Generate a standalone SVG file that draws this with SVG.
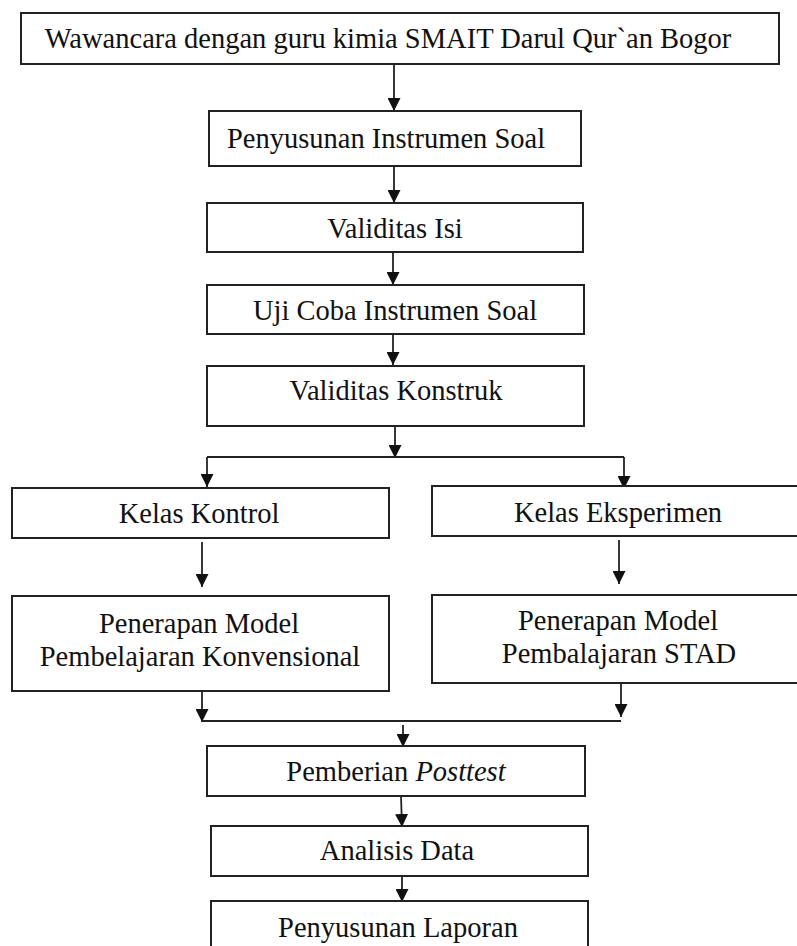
<svg xmlns="http://www.w3.org/2000/svg" width="797" height="946" viewBox="0 0 797 946">
<style>
  .box { fill: #fff; stroke: #222; stroke-width: 2; }
  .lbl { font-size: 28.5px; fill: #111; text-anchor: middle; }
  .con { fill: none; stroke: #222; stroke-width: 1.8; }
  .arr { marker-end: url(#ah); }
</style>
<defs>
  <marker id="ah" markerUnits="userSpaceOnUse" markerWidth="13" markerHeight="13" refX="13" refY="6.5" orient="auto">
    <path d="M0,0 L13,6.5 L0,13 z" fill="#111"/>
  </marker>
</defs>
<rect width="797" height="946" fill="#fff"/>

<g id="connectors">
  <line class="con arr" x1="394" y1="64" x2="394" y2="111"/>
  <line class="con arr" x1="394" y1="166" x2="394" y2="203"/>
  <line class="con arr" x1="393" y1="252" x2="393" y2="285"/>
  <line class="con arr" x1="393" y1="334" x2="393" y2="365"/>
  <line class="con arr" x1="395" y1="426" x2="395" y2="458"/>
  <line class="con" x1="207" y1="457" x2="624" y2="457"/>
  <line class="con arr" x1="207" y1="457" x2="207" y2="487"/>
  <line class="con arr" x1="624" y1="457" x2="624" y2="489"/>
  <line class="con arr" x1="202" y1="542" x2="202" y2="587"/>
  <line class="con arr" x1="619" y1="540" x2="619" y2="584"/>
  <line class="con arr" x1="202" y1="691" x2="202" y2="722"/>
  <line class="con arr" x1="621" y1="683" x2="621" y2="717"/>
  <line class="con" x1="202" y1="721" x2="621" y2="721"/>
  <line class="con arr" x1="403" y1="725" x2="403" y2="747"/>
  <line class="con arr" x1="401" y1="796" x2="402" y2="827"/>
  <line class="con arr" x1="402" y1="876" x2="402" y2="902"/>
</g>

<g font-family="'Liberation Serif', 'DejaVu Serif', serif">
<g id="n1">
  <rect class="box" x="21" y="13" width="758" height="51"/>
  <text class="lbl" x="388" y="48">Wawancara dengan guru kimia SMAIT Darul Qur`an Bogor</text>
</g>
<g id="n2">
  <rect class="box" x="209" y="111" width="372" height="55"/>
  <text class="lbl" x="386" y="148">Penyusunan Instrumen Soal</text>
</g>
<g id="n3">
  <rect class="box" x="207" y="203" width="376" height="49"/>
  <text class="lbl" x="395" y="238">Validitas Isi</text>
</g>
<g id="n4">
  <rect class="box" x="207" y="285" width="377" height="49"/>
  <text class="lbl" x="395" y="320">Uji Coba Instrumen Soal</text>
</g>
<g id="n5">
  <rect class="box" x="207" y="366" width="377" height="60"/>
  <text class="lbl" x="396" y="400">Validitas Konstruk</text>
</g>
<g id="n6">
  <rect class="box" x="12" y="488" width="377" height="50"/>
  <text class="lbl" x="199" y="523">Kelas Kontrol</text>
</g>
<g id="n7">
  <rect class="box" x="432" y="486" width="372" height="50"/>
  <text class="lbl" x="618" y="522">Kelas Eksperimen</text>
</g>
<g id="n8">
  <rect class="box" x="12" y="596" width="377" height="95"/>
  <text class="lbl" x="199" y="633">Penerapan Model</text>
  <text class="lbl" x="200" y="666">Pembelajaran Konvensional</text>
</g>
<g id="n9">
  <rect class="box" x="432" y="595" width="372" height="88"/>
  <text class="lbl" x="618" y="630">Penerapan Model</text>
  <text class="lbl" x="619" y="663">Pembalajaran STAD</text>
</g>
<g id="n10">
  <rect class="box" x="207" y="746" width="378" height="50"/>
  <text class="lbl" x="396" y="781">Pemberian <tspan font-style="italic">Posttest</tspan></text>
</g>
<g id="n11">
  <rect class="box" x="211" y="826" width="377" height="50"/>
  <text class="lbl" x="397" y="860">Analisis Data</text>
</g>
<g id="n12">
  <rect class="box" x="211" y="901" width="377" height="60"/>
  <text class="lbl" x="398" y="937">Penyusunan Laporan</text>
</g>
</g>
</svg>
